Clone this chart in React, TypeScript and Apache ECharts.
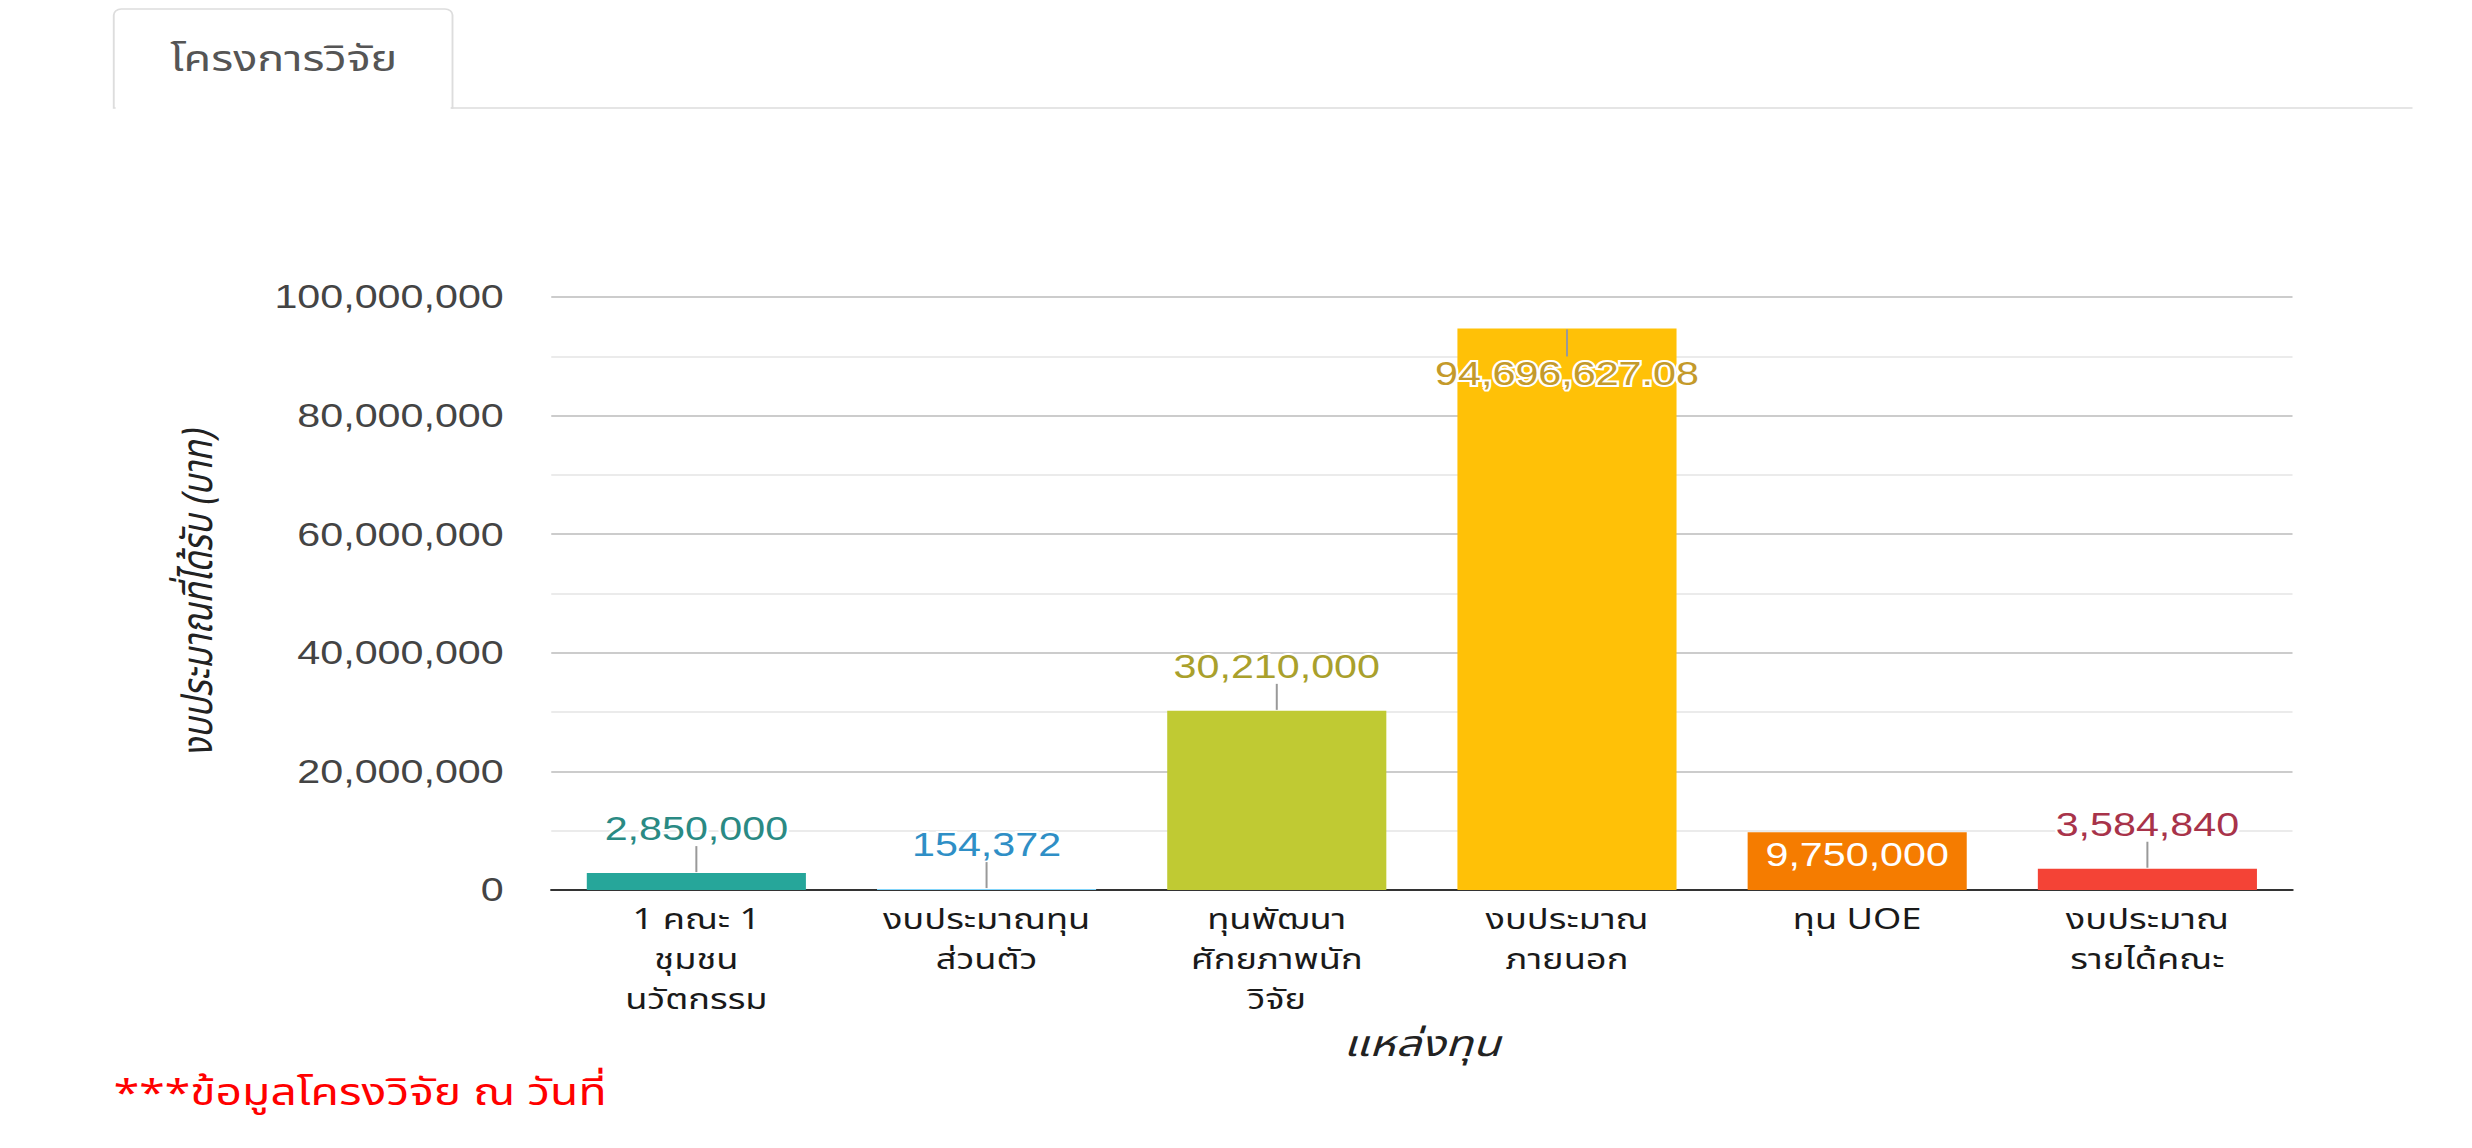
import * as echarts from 'echarts';
import { useEffect, useRef } from 'react';

// the reference screenshot is stretched sideways, so the chart is drawn narrower and scaled back
const SX = 1.25;
const W = 1978;
const H = 1148;

const categories = [
  '1 คณะ 1\nชุมชน\nนวัตกรรม',
  'งบประมาณทุน\nส่วนตัว',
  'ทุนพัฒนา\nศักยภาพนัก\nวิจัย',
  'งบประมาณ\nภายนอก',
  'ทุน UOE',
  'งบประมาณ\nรายได้คณะ',
];
const values = [2850000, 154372, 30210000, 94696627.08, 9750000, 3584840];
const barColors = ['#26a69a', '#81d4fa', '#c0ca33', '#ffc107', '#f57c00', '#f44336'];
const labelColors = ['#2a8a84', '#2f8fc6', '#a9a02c', '#c49a2a', '#ffffff', '#a8334a'];
// 0 = label above with stem, 1 = label inside under a stem, 2 = label inside, no stem
const labelModes = [0, 0, 0, 1, 2, 0];

const thai = "'Noto Sans Thai', Tahoma, 'DejaVu Sans', sans-serif";
const latin = "'Liberation Sans', Arial, sans-serif";

const fmt = (v: number) =>
  v.toLocaleString('en-US', { maximumFractionDigits: 2 });

export default function App() {
  const chartRef = useRef<HTMLDivElement>(null);

  useEffect(() => {
    if (!chartRef.current) return;
    const chart = echarts.init(chartRef.current, null, { renderer: 'svg' });

    chart.setOption({
      animation: false,
      grid: { left: 441, right: 144, top: 297, bottom: 258, containLabel: false },
      xAxis: {
        type: 'category',
        data: categories,
        name: 'แหล่งทุน',
        nameLocation: 'middle',
        nameGap: 137,
        nameTextStyle: { fontFamily: thai, fontSize: 36, fontStyle: 'italic', color: '#222' },
        axisLine: { lineStyle: { color: '#333', width: 2 } },
        axisTick: { show: false },
        axisLabel: {
          margin: 10,
          fontFamily: thai,
          fontSize: 29,
          lineHeight: 40,
          color: '#1a1a1a',
          interval: 0,
        },
      },
      yAxis: {
        type: 'value',
        min: 0,
        max: 100000000,
        interval: 20000000,
        name: 'งบประมาณที่ได้รับ (บาท)',
        nameLocation: 'middle',
        nameGap: 265,
        nameTextStyle: { fontFamily: thai, fontSize: 34, fontStyle: 'italic', color: '#222' },
        axisLine: { show: false },
        axisTick: { show: false },
        axisLabel: {
          margin: 38,
          fontFamily: latin,
          fontSize: 33,
          color: '#444',
          formatter: (v: number) => fmt(v),
        },
        splitLine: { lineStyle: { color: '#cccccc', width: 2 } },
        minorTick: { show: false, splitNumber: 2 },
        minorSplitLine: { show: true, lineStyle: { color: '#ebebeb', width: 2 } },
      },
      series: [
        {
          type: 'bar',
          barCategoryGap: '24.5%',
          data: values.map((v, i) => ({
            value: v,
            itemStyle: { color: barColors[i] },
            label: {
              show: true,
              position: labelModes[i] === 0 ? 'top' : 'insideTop',
              distance: labelModes[i] === 0 ? 28 : labelModes[i] === 1 ? 29 : 6,
              color: labelColors[i],
              textBorderColor: labelModes[i] === 2 ? 'transparent' : '#fff',
              textBorderWidth: labelModes[i] === 2 ? 0 : 4,
            },
          })),
          label: {
            fontFamily: latin,
            fontSize: 33,
            formatter: (p: any) => fmt(p.value),
          },
        },
        {
          type: 'custom',
          silent: true,
          z: 5,
          data: values.map((v, i) => [i, v, labelModes[i]]),
          renderItem: (_params: any, api: any) => {
            const mode = api.value(2);
            if (mode === 2) return null;
            const p = api.coord([api.value(0), api.value(1)]);
            const y1 = mode === 0 ? p[1] - 1 : p[1] + 1;
            const y2 = mode === 0 ? p[1] - 27 : p[1] + 28;
            return {
              type: 'line',
              shape: { x1: p[0], y1, x2: p[0], y2 },
              style: { stroke: '#999', lineWidth: 1.6 },
            };
          },
        },
      ],
      graphic: [
        {
          type: 'rect',
          shape: { x: 91, y: 9, width: 271, height: 99, r: [6, 6, 0, 0] },
          style: { fill: '#fff', stroke: '#dddddd', lineWidth: 1.5 },
        },
        {
          type: 'rect',
          shape: { x: 92.5, y: 104, width: 268, height: 8 },
          style: { fill: '#fff' },
        },
        {
          type: 'line',
          shape: { x1: 361, y1: 108, x2: 1930, y2: 108 },
          style: { stroke: '#dddddd', lineWidth: 1.5 },
        },
        {
          type: 'text',
          x: 227,
          y: 60,
          style: {
            text: 'โครงการวิจัย',
            fontFamily: thai,
            fontSize: 36,
            fill: '#555',
            align: 'center',
            verticalAlign: 'middle',
          },
        },
        {
          type: 'text',
          x: 91,
          y: 1094,
          style: {
            text: '***ข้อมูลโครงวิจัย ณ วันที่',
            fontFamily: thai,
            fontSize: 37,
            fill: '#ff0000',
            align: 'left',
            verticalAlign: 'middle',
          },
        },
      ],
    });

    return () => chart.dispose();
  }, []);

  return (
    <div
      ref={chartRef}
      style={{
        position: 'fixed',
        left: 0,
        top: 0,
        width: W,
        height: H,
        transform: `scaleX(${SX})`,
        transformOrigin: '0 0',
        background: '#fff',
      }}
    />
  );
}
